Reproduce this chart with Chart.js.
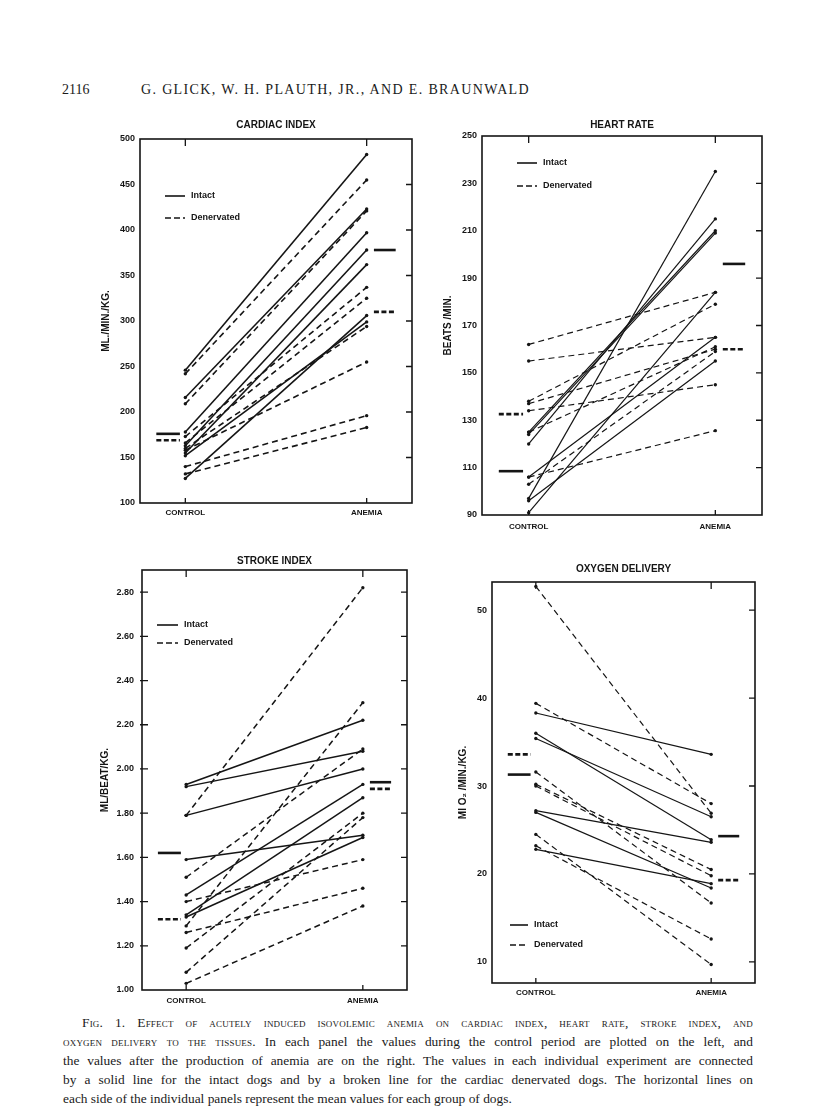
<!DOCTYPE html>
<html>
<head>
<meta charset="utf-8">
<script src="https://cdn.jsdelivr.net/npm/chart.js@4.4.1/dist/chart.umd.min.js"></script>
<style>
  html, body { margin: 0; padding: 0; background: #fff; }
  #page { position: relative; width: 816px; height: 1109px; overflow: hidden; color: #1a1a1a; }
  .panel { position: absolute; }
  .hdr { position: absolute; top: 82px; font-family: "Liberation Serif", "DejaVu Serif", serif; font-size: 14px; }
  #caption { position: absolute; left: 63px; top: 1013px; width: 690px; font-family: "Liberation Serif", "DejaVu Serif", serif; font-size: 13.4px; line-height: 19px; }
  #caption div { text-align: justify; text-align-last: justify; white-space: nowrap; }
  #caption div.last { text-align-last: left; }
  .sc { font-variant: small-caps; letter-spacing: 0.2px; }
</style>
</head>
<body>
<div id="page">
  <div class="hdr" style="left:62px">2116</div>
  <div class="hdr" style="left:141px; letter-spacing:1.35px">G. GLICK, W. H. PLAUTH, JR., AND E. BRAUNWALD</div>

  <div class="panel" style="left:90px; top:112px; width:340px; height:415px"><canvas id="ciChart"></canvas></div>
  <div class="panel" style="left:432px; top:112px; width:340px; height:428px"><canvas id="hrChart"></canvas></div>
  <div class="panel" style="left:90px; top:540px; width:330px; height:470px"><canvas id="siChart"></canvas></div>
  <div class="panel" style="left:440px; top:545px; width:330px; height:460px"><canvas id="odChart"></canvas></div>

  <div id="caption">
    <div style="padding-left:19px"><span class="sc">Fig. 1. Effect of acutely induced isovolemic anemia on cardiac index, heart rate, stroke index, and</span></div>
    <div><span class="sc">oxygen delivery to the tissues.</span> In each panel the values during the control period are plotted on the left, and</div>
    <div>the values after the production of anemia are on the right. The values in each individual experiment are connected</div>
    <div>by a solid line for the intact dogs and by a broken line for the cardiac denervated dogs. The horizontal lines on</div>
    <div class="last">each side of the individual panels represent the mean values for each group of dogs.</div>
  </div>
</div>

<script>
// categories + legend
const GROUPS = ["CONTROL", "ANEMIA"];
const LEGEND = ["Intact", "Denervated"];

// cardiac index (ml/min/kg)
const CI_TICKS = [100, 150, 200, 250, 300, 350, 400, 450, 500];
const CI_INTACT_CONTROL = [246, 216, 178, 163, 155, 152, 127];
const CI_INTACT_ANEMIA  = [483, 423, 397, 378, 362, 299, 306];
const CI_DENERV_CONTROL = [242, 209, 173, 166, 160, 158, 140, 132];
const CI_DENERV_ANEMIA  = [455, 421, 337, 325, 294, 255, 196, 183];
const CI_MEAN_CONTROL = [176, 169];   // intact, denervated
const CI_MEAN_ANEMIA  = [378, 310];

// heart rate (beats/min)
const HR_TICKS = [90, 110, 130, 150, 170, 190, 210, 230, 250];
const HR_INTACT_CONTROL = [125, 124, 120, 97, 91, 96, 106];
const HR_INTACT_ANEMIA  = [210, 209, 215, 235, 184, 155, 165];
const HR_DENERV_CONTROL = [162, 155, 138, 137, 134, 125, 103, 106];
const HR_DENERV_ANEMIA  = [184, 165, 179, 160, 145, 161, 159, 125.6];
const HR_MEAN_CONTROL = [108.5, 132.6];
const HR_MEAN_ANEMIA  = [196, 160];

// stroke index (ml/beat/kg)
const SI_TICKS = [1.0, 1.2, 1.4, 1.6, 1.8, 2.0, 2.2, 2.4, 2.6, 2.8];
const SI_INTACT_CONTROL = [1.93, 1.92, 1.79, 1.59, 1.43, 1.34, 1.33];
const SI_INTACT_ANEMIA  = [2.22, 2.08, 2.00, 1.70, 1.93, 1.87, 1.69];
const SI_DENERV_CONTROL = [1.79, 1.51, 1.40, 1.29, 1.26, 1.19, 1.08, 1.03];
const SI_DENERV_ANEMIA  = [2.82, 2.09, 1.59, 2.30, 1.46, 1.80, 1.78, 1.38];
const SI_MEAN_CONTROL = [1.62, 1.32];
const SI_MEAN_ANEMIA  = [1.94, 1.91];

// oxygen delivery (ml O2/min/kg)
const OD_TICKS = [10, 20, 30, 40, 50];
const OD_INTACT_CONTROL = [38.3, 36.0, 35.4, 27.2, 27.0, 22.8];
const OD_INTACT_ANEMIA  = [33.6, 23.9, 26.5, 23.6, 18.4, 18.9];
const OD_DENERV_CONTROL = [52.7, 39.4, 31.6, 30.2, 30.0, 24.5, 23.2];
const OD_DENERV_ANEMIA  = [26.9, 28.0, 16.7, 20.5, 19.8, 9.7, 12.6];
const OD_MEAN_CONTROL = [31.3, 33.6];
const OD_MEAN_ANEMIA  = [24.3, 19.3];

const INK = "#151515";
const FONT = "'Liberation Sans', Arial, sans-serif";
Chart.defaults.font.family = FONT;
Chart.defaults.color = INK;
Chart.defaults.animation = false;

// frame + small inward ticks, like the hand-drawn originals
const framePlugin = {
    id: "frame",
    afterDraw(chart, args, opts) {
        const { ctx, chartArea: a, scales } = chart;
        ctx.save();
        ctx.strokeStyle = INK;
        ctx.lineWidth = 1.6;
        ctx.strokeRect(a.left, a.top, a.right - a.left, a.bottom - a.top);
        ctx.lineWidth = 1.3;
        ctx.beginPath();
        scales.y.ticks.forEach(t => {
            const y = scales.y.getPixelForValue(t.value);
            if (y < a.top + 2 || y > a.bottom - 2) return;
            ctx.moveTo(a.right, y); ctx.lineTo(a.right - 6, y);
            if (opts.leftTicks) { ctx.moveTo(a.left - 2, y); ctx.lineTo(a.left + 6, y); }
        });
        scales.x.ticks.forEach(t => {
            const x = scales.x.getPixelForValue(t.value);
            ctx.moveTo(x, a.top); ctx.lineTo(x, a.top + 7);
            ctx.moveTo(x, a.bottom); ctx.lineTo(x, a.bottom - 5);
        });
        ctx.stroke();
        ctx.restore();
    }
};

// legend drawn inside the plot box
const boxLegendPlugin = {
    id: "boxLegend",
    afterDraw(chart, args, opts) {
        const { ctx, chartArea: a } = chart;
        ctx.save();
        ctx.strokeStyle = INK;
        ctx.fillStyle = INK;
        ctx.font = "bold 9px " + FONT;
        ctx.textBaseline = "middle";
        LEGEND.forEach((name, i) => {
            const y = a.top + opts.dy + i * opts.gap;
            const x = a.left + opts.dx;
            ctx.lineWidth = 1.6;
            ctx.setLineDash(i === 1 ? [6, 3] : []);
            ctx.beginPath();
            ctx.moveTo(x, y); ctx.lineTo(x + opts.len, y);
            ctx.stroke();
            ctx.setLineDash([]);
            ctx.fillText(name, x + opts.len + 6, y);
        });
        ctx.restore();
    }
};

function pairSets(control, anemia, dashed, width) {
    return control.map((c, i) => ({
        data: [{ x: 0, y: c }, { x: 1, y: anemia[i] }],
        borderColor: INK,
        borderWidth: width,
        borderDash: dashed ? [6, 4] : [],
        pointRadius: 1.7,
        pointBackgroundColor: INK,
        pointBorderWidth: 0
    }));
}

function meanSets(meanControl, meanAnemia) {
    const sets = [];
    [0, 1].forEach(g => {
        [[-0.16, -0.03, meanControl[g]], [1.04, 1.16, meanAnemia[g]]].forEach(([x0, x1, m]) => {
            sets.push({
                data: [{ x: x0, y: m }, { x: x1, y: m }],
                borderColor: INK,
                borderWidth: 2.6,
                borderDash: g === 1 ? [5, 2.5] : [],
                pointRadius: 0
            });
        });
    });
    return sets;
}

function makePanel(id, p) {
    new Chart(document.getElementById(id), {
        type: "line",
        data: {
            datasets: [
                ...pairSets(p.intactC, p.intactA, false, p.lw),
                ...pairSets(p.denervC, p.denervA, true, p.lw),
                ...meanSets(p.meanC, p.meanA)
            ]
        },
        options: {
            responsive: true,
            maintainAspectRatio: false,
            layout: { padding: { left: 0, right: p.padRight, top: 0, bottom: 0 } },
            plugins: {
                legend: { display: false },
                tooltip: { enabled: false },
                title: {
                    display: true,
                    text: p.title,
                    fullSize: false,
                    font: { size: 10, weight: "bold" },
                    padding: { top: p.titleTop, bottom: p.titleBottom }
                },
                boxLegend: p.legend,
                frame: { leftTicks: !!p.leftTicks }
            },
            scales: {
                x: {
                    type: "linear",
                    min: -0.25, max: 1.25,
                    afterBuildTicks: s => { s.ticks = GROUPS.map((g, i) => ({ value: i })); },
                    afterFit: s => { s.height = p.xh; },
                    ticks: {
                        callback: v => GROUPS[v],
                        font: { size: 8, weight: "bold" },
                        padding: p.xPad, maxRotation: 0, autoSkip: false
                    },
                    grid: { display: false, drawTicks: false },
                    border: { display: false }
                },
                y: {
                    min: p.yMin, max: p.yMax,
                    afterBuildTicks: s => { s.ticks = p.ticks.map(v => ({ value: v })); },
                    afterFit: s => { s.width = p.yw; },
                    ticks: {
                        callback: p.fmt,
                        font: { size: 9, weight: "bold" },
                        padding: p.yPad
                    },
                    title: {
                        display: true,
                        text: p.yTitle,
                        font: { size: 10, weight: "bold" },
                        padding: { top: p.yTitlePad, bottom: 0 }
                    },
                    grid: { display: false, drawTicks: false },
                    border: { display: false }
                }
            }
        },
        plugins: [framePlugin, boxLegendPlugin]
    });
}

// ✅ Cardiac index
makePanel("ciChart", {
    title: "CARDIAC INDEX", yTitle: "ML./MIN./KG.",
    intactC: CI_INTACT_CONTROL, intactA: CI_INTACT_ANEMIA,
    denervC: CI_DENERV_CONTROL, denervA: CI_DENERV_ANEMIA,
    meanC: CI_MEAN_CONTROL, meanA: CI_MEAN_ANEMIA,
    ticks: CI_TICKS, yMin: 100, yMax: 500, fmt: v => v,
    lw: 1.6, yw: 50, xh: 24, padRight: 18, titleTop: 7, titleBottom: 8,
    xPad: 5, yPad: 5, yTitlePad: 10,
    legend: { dx: 25, dy: 57, gap: 22, len: 20 }
});

// ✅ Heart rate
makePanel("hrChart", {
    title: "HEART RATE", yTitle: "BEATS /MIN.",
    intactC: HR_INTACT_CONTROL, intactA: HR_INTACT_ANEMIA,
    denervC: HR_DENERV_CONTROL, denervA: HR_DENERV_ANEMIA,
    meanC: HR_MEAN_CONTROL, meanA: HR_MEAN_ANEMIA,
    ticks: HR_TICKS, yMin: 90, yMax: 250, fmt: v => v,
    lw: 1.2, yw: 50, xh: 25, padRight: 10, titleTop: 7, titleBottom: 5,
    xPad: 7, yPad: 5, yTitlePad: 10,
    legend: { dx: 35, dy: 27, gap: 23, len: 20 }
});

// ✅ Stroke index
makePanel("siChart", {
    title: "STROKE INDEX", yTitle: "ML/BEAT/KG.",
    intactC: SI_INTACT_CONTROL, intactA: SI_INTACT_ANEMIA,
    denervC: SI_DENERV_CONTROL, denervA: SI_DENERV_ANEMIA,
    meanC: SI_MEAN_CONTROL, meanA: SI_MEAN_ANEMIA,
    ticks: SI_TICKS, yMin: 1.0, yMax: 2.9, fmt: v => v.toFixed(2),
    lw: 1.5, yw: 52, xh: 20, padRight: 13, titleTop: 15, titleBottom: 3,
    xPad: 6, yPad: 8, yTitlePad: 9, leftTicks: true,
    legend: { dx: 15, dy: 55, gap: 18, len: 21 }
});

// ✅ Oxygen delivery
makePanel("odChart", {
    title: "OXYGEN DELIVERY", yTitle: "Ml O\u2082 /MIN./KG.",
    intactC: OD_INTACT_CONTROL, intactA: OD_INTACT_ANEMIA,
    denervC: OD_DENERV_CONTROL, denervA: OD_DENERV_ANEMIA,
    meanC: OD_MEAN_CONTROL, meanA: OD_MEAN_ANEMIA,
    ticks: OD_TICKS, yMin: 7.6, yMax: 53.2, fmt: v => v,
    lw: 1.2, yw: 52, xh: 22, padRight: 15, titleTop: 18, titleBottom: 7,
    xPad: 5, yPad: 5, yTitlePad: 17,
    legend: { dx: 18, dy: 343, gap: 20, len: 18 }
});
</script>
</body>
</html>
